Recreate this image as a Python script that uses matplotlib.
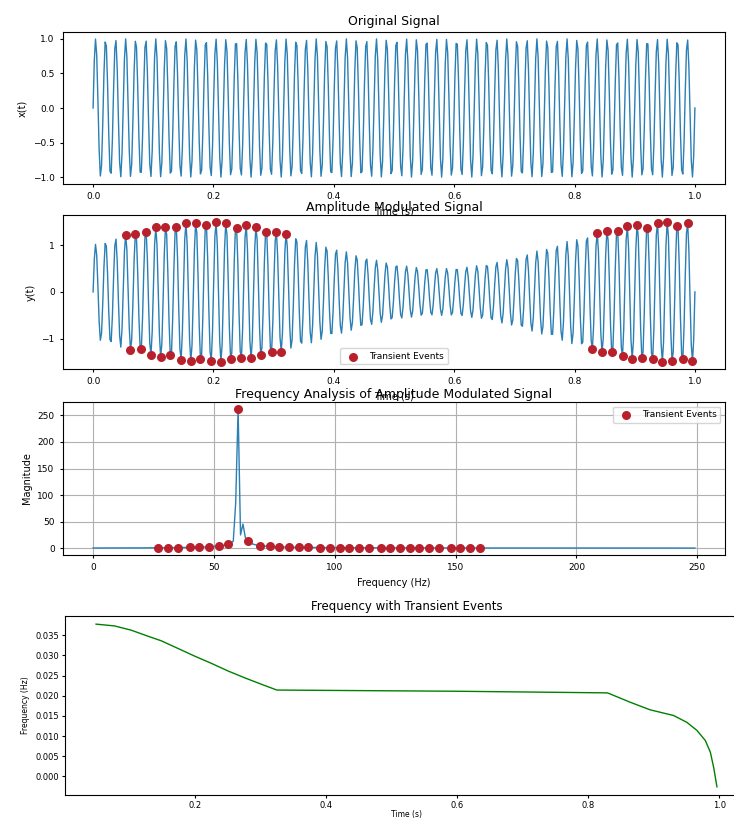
import numpy as np
import matplotlib
matplotlib.use("Agg")
import matplotlib.pyplot as plt

# ################### DATA ####################
# signal settings
sampleRate = 500          # samples in 1 s -> FFT axis ends near 250 Hz
carrierHz = 60            # cycles seen in "Original Signal"
modulationHz = 1.3        # envelope peaks ~0.2 s and ~0.96 s, trough ~0.57 s
modulationDepth = 0.5     # envelope swings 0.5 .. 1.5
transientThreshold = 1.2  # red dots only where |y| goes above ~1.2

# "Frequency with Transient Events" curve, read point by point
freqTime = [0.0483, 0.0764, 0.1020, 0.1276, 0.1480, 0.1736, 0.1991, 0.2247,
            0.2503, 0.2758, 0.3014, 0.3244, 0.6000, 0.8294, 0.8638, 0.8945,
            0.9302, 0.9506, 0.9660, 0.9788, 0.9865, 0.9916, 0.9966]
freqValue = [0.03774, 0.0373, 0.03624, 0.03475, 0.0336, 0.0317, 0.0298, 0.0280,
             0.0261, 0.0244, 0.0228, 0.0214, 0.0211, 0.0207, 0.0184, 0.0165,
             0.0151, 0.0134, 0.0114, 0.0089, 0.0060, 0.0022, -0.0026]

tickFont = 6.5
labelFont = 7
titleFont = 9

# ################### SIGNALS ####################
t = np.linspace(0, 1, sampleRate)
x = np.sin(2 * np.pi * carrierHz * t)
envelope = 1 + modulationDepth * np.sin(2 * np.pi * modulationHz * t)
y = envelope * x

a = np.abs(y)
isPeak = (a[1:-1] > a[:-2]) & (a[1:-1] >= a[2:]) & (a[1:-1] > transientThreshold)
transientIdx = np.where(isPeak)[0] + 1

spectrum = np.abs(np.fft.fft(y))
freqs = np.fft.fftfreq(len(y), 1 / sampleRate)
half = len(y) // 2
fftIdx = transientIdx[transientIdx < half]

# ################### PLOT ####################
fig = plt.figure(figsize=(7.34, 8.19), dpi=100)
W, H = 734.0, 819.0


def box(left, top, right, bottom):
    return [left / W, 1 - bottom / H, (right - left) / W, (bottom - top) / H]


blue = "#2a7fb4"
red = "#b8202c"

# Original signal
ax1 = fig.add_axes(box(63, 32, 725, 184))
ax1.plot(t, x, color=blue, lw=1)
ax1.set_title("Original Signal", fontsize=titleFont, pad=5)
ax1.set_xlabel("Time (s)", fontsize=labelFont)
ax1.set_ylabel("x(t)", fontsize=labelFont)

# Amplitude modulated signal
ax2 = fig.add_axes(box(63, 215, 725, 369))
ax2.plot(t, y, color=blue, lw=1)
ax2.scatter(t[transientIdx], y[transientIdx], color=red, s=30, zorder=3,
            label="Transient Events")
ax2.set_title("Amplitude Modulated Signal", fontsize=titleFont, pad=3)
ax2.set_xlabel("Time (s)", fontsize=labelFont)
ax2.set_ylabel("y(t)", fontsize=labelFont)
ax2.set_yticks([-1, 0, 1])
ax2.legend(loc="lower center", fontsize=6.5)

# Frequency analysis
ax3 = fig.add_axes(box(63, 402, 725, 555))
ax3.plot(freqs[:half], spectrum[:half], color=blue, lw=1)
ax3.scatter(freqs[fftIdx], spectrum[fftIdx], color=red, s=30, zorder=3,
            label="Transient Events")
ax3.set_title("Frequency Analysis of Amplitude Modulated Signal",
              fontsize=titleFont, pad=3)
ax3.set_xlabel("Frequency (Hz)", fontsize=labelFont)
ax3.set_ylabel("Magnitude", fontsize=labelFont)
ax3.grid(True)
ax3.legend(loc="upper right", fontsize=6.5)

for ax in (ax1, ax2, ax3):
    ax.tick_params(labelsize=tickFont, length=2.5)

# Frequency with transient events
ax4 = fig.add_axes(box(65, 616, 748, 795))
ax4.plot(freqTime, freqValue, color="green", lw=1)
ax4.set_title("Frequency with Transient Events", fontsize=8.5, pad=4)
ax4.set_xlabel("Time (s)", fontsize=5.5, labelpad=0.5)
ax4.set_ylabel("Frequency (Hz)", fontsize=5.5)
ax4.set_yticks(np.arange(0, 0.0351, 0.005))
ax4.set_xticks([0.2, 0.4, 0.6, 0.8, 1.0])
ax4.tick_params(labelsize=6, length=2.5, pad=1.5)

fig.savefig("out.png", dpi=100)
